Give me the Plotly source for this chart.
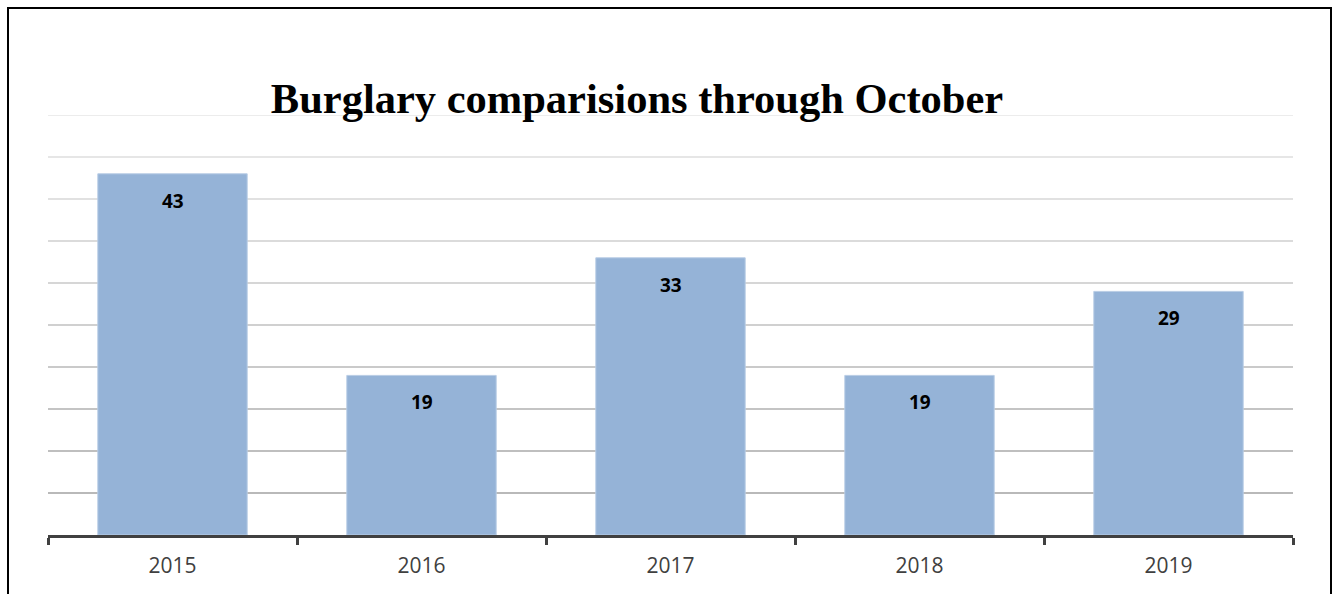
import plotly.graph_objects as go

years = ["2015", "2016", "2017", "2018", "2019"]
burglaries = [43, 19, 33, 19, 29]
grid_values = [0, 5, 10, 15, 20, 25, 30, 35, 40, 45, 50]

W, H = 1333, 594
L, R, T, B = 48, 40, 115, 59

fig = go.Figure()
fig.add_trace(go.Bar(
    x=years, y=burglaries, width=0.6,
    marker=dict(color="#95b3d7", line=dict(color="#b9cde5", width=1)),
    hoverinfo="x+y",
))

# data labels inside top of bars (category index positions)
for i, v in enumerate(burglaries):
    fig.add_annotation(x=i, y=v, xref="x", yref="y", text=f"<b>{v}</b>",
                       showarrow=False, yanchor="middle", yshift=-27,
                       font=dict(family="Open Sans, Liberation Sans, sans-serif", size=19, color="#000000"))

# gridlines: light at top, darker toward bottom
for g in grid_values[1:]:
    frac = (g - grid_values[0]) / (grid_values[-1] - grid_values[0])
    c = int(155 + (230 - 155) * frac)
    fig.add_shape(type="line", xref="paper", yref="y", x0=0, x1=1, y0=g, y1=g,
                  line=dict(color=f"rgb({c},{c},{c})", width=1.3), layer="below")

# outer frame
pw = W - L - R
ph = H - T - B
fig.add_shape(type="rect", xref="paper", yref="paper",
              x0=(8 - L) / pw, x1=(1331 - L) / pw,
              y0=-0.5, y1=(H - B - 8) / ph,
              line=dict(color="#000000", width=2), fillcolor="rgba(0,0,0,0)")

fig.update_layout(
    width=W, height=H,
    margin=dict(l=L, r=R, t=T, b=B),
    paper_bgcolor="white", plot_bgcolor="white",
    showlegend=False,
    title=dict(text="<b>Burglary comparisions through October</b>",
               x=637 / W, xanchor="center", xref="container",
               y=1 - 98 / H, yanchor="middle", yref="container",
               font=dict(family="Liberation Serif, Times New Roman, serif", size=42.5, color="#000000")),
    xaxis=dict(
        type="category", range=[-0.5, len(years) - 0.5],
        showgrid=False, showline=True, linecolor="#404040", linewidth=3,
        ticks="outside", tickson="boundaries", ticklen=7, tickwidth=3, tickcolor="#404040",
        tickfont=dict(family="Open Sans, Liberation Sans, sans-serif", size=21, color="#404040"),
        ticklabelstandoff=10,
        zeroline=False,
    ),
    yaxis=dict(
        range=[0, 50], showgrid=False, showticklabels=False, zeroline=False,
        showline=False, ticks="",
    ),
)

fig.write_html("out.html", config={"displayModeBar": False},
               post_script="document.body.style.margin='0';document.body.style.overflow='hidden';")
